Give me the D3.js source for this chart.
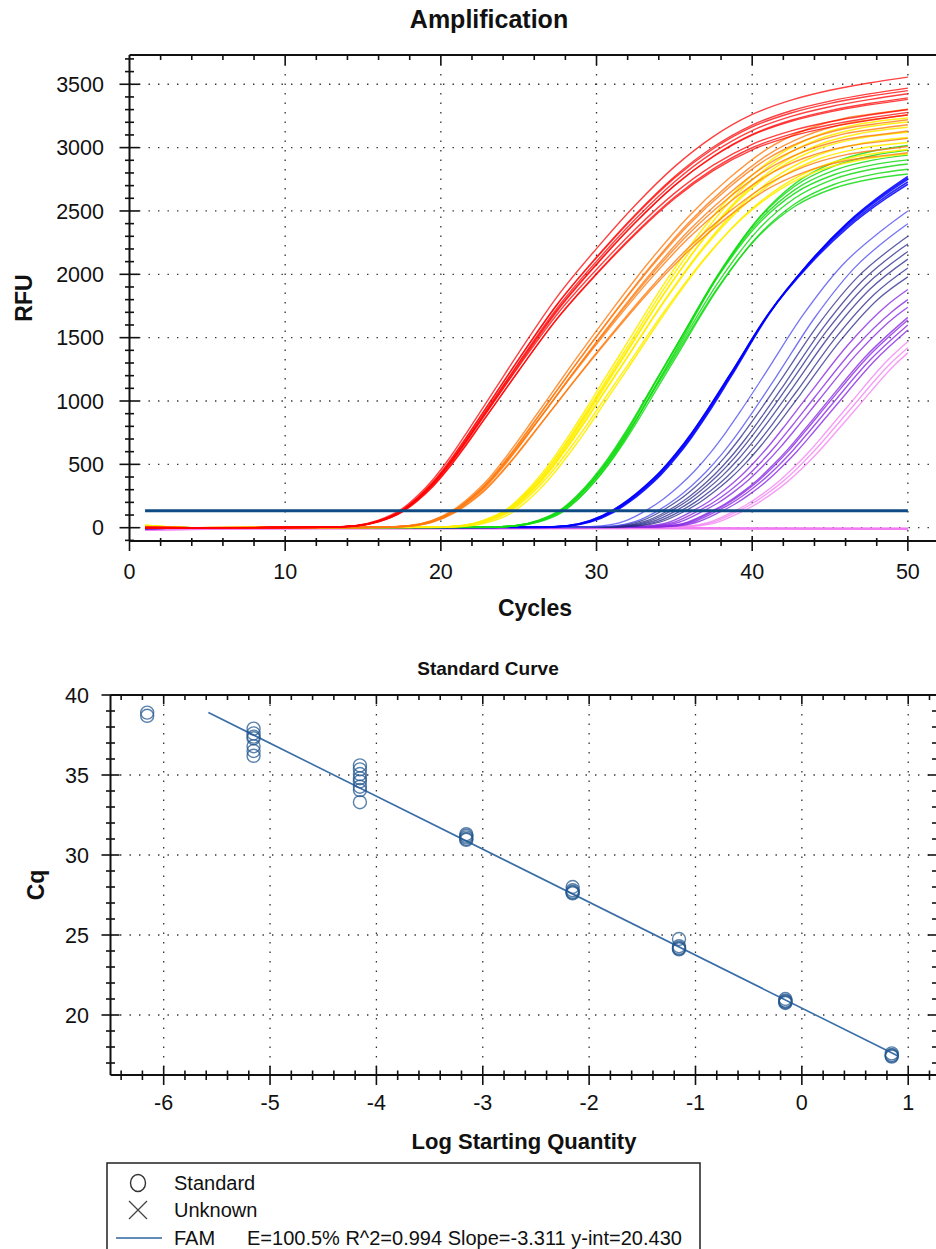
<!DOCTYPE html>
<html>
<head>
<meta charset="utf-8">
<script src="https://cdn.jsdelivr.net/npm/d3@7"></script>
<style>
  body { margin: 0; background: #fff; }
  svg { display: block; font-family: "Liberation Sans", Arial, sans-serif; }
</style>
</head>
<body>
<svg id="chart" width="936" height="1249"></svg>
<script>
// ---------------- Amplification data (RFU at knot cycles, one row per well) ----------------
const redCycles = [1, 4, 12.5, 14.5, 16, 17.5, 18.5, 19.5, 20.5, 21.5, 22.5, 23.5, 25, 27.5, 30, 32.5, 35, 37.5, 40, 42.5, 45, 47.5, 50];
const redRFU = [
  [2, 0, 3, 16, 59, 148, 252, 381, 540, 720, 909, 1097, 1380, 1828, 2203, 2547, 2848, 3087, 3262, 3375, 3453, 3510, 3556],
  [0, 0, 3, 14, 53, 137, 235, 358, 511, 685, 869, 1053, 1329, 1768, 2136, 2473, 2770, 3005, 3178, 3291, 3367, 3424, 3470],
  [-2, 0, 3, 15, 55, 140, 239, 362, 516, 690, 873, 1056, 1330, 1766, 2130, 2465, 2759, 2991, 3163, 3273, 3349, 3405, 3450],
  [0, 0, 3, 14, 50, 131, 227, 346, 496, 667, 849, 1030, 1303, 1738, 2102, 2436, 2729, 2962, 3135, 3247, 3323, 3379, 3425],
  [3, 0, 3, 13, 48, 127, 219, 337, 484, 653, 832, 1012, 1282, 1714, 2076, 2408, 2700, 2932, 3104, 3216, 3292, 3348, 3393],
  [0, 0, 3, 14, 52, 133, 229, 349, 498, 667, 847, 1026, 1295, 1723, 2082, 2410, 2699, 2928, 3098, 3207, 3282, 3337, 3381],
  [-3, 0, 3, 14, 52, 134, 229, 347, 494, 660, 835, 1010, 1272, 1689, 2038, 2358, 2639, 2862, 3026, 3132, 3204, 3257, 3301],
  [2, 0, 3, 12, 46, 122, 212, 325, 468, 630, 804, 978, 1239, 1656, 2006, 2326, 2608, 2832, 2999, 3107, 3180, 3234, 3278],
  [0, 0, 3, 13, 48, 125, 216, 330, 472, 635, 807, 980, 1239, 1653, 2000, 2317, 2597, 2819, 2983, 3089, 3162, 3215, 3258]
];

const orangeCycles = [1, 4, 15.9, 17.9, 19.4, 20.9, 21.9, 22.9, 23.9, 24.9, 25.9, 26.9, 28.4, 30.9, 33.4, 35.9, 38.4, 40.9, 43.4, 45.9, 48.4, 50];
const orangeRFU = [
  [4, 0, 3, 15, 55, 148, 246, 364, 513, 677, 850, 1023, 1285, 1704, 2101, 2455, 2746, 2984, 3139, 3231, 3277, 3303],
  [5, 0, 3, 13, 49, 135, 228, 340, 484, 644, 814, 985, 1244, 1658, 2052, 2405, 2696, 2935, 3092, 3186, 3233, 3259],
  [3, 0, 3, 14, 52, 141, 235, 349, 493, 652, 821, 990, 1245, 1653, 2041, 2388, 2673, 2906, 3058, 3149, 3195, 3220],
  [6, 0, 3, 12, 46, 128, 217, 326, 465, 620, 786, 953, 1206, 1610, 1995, 2341, 2626, 2861, 3015, 3108, 3155, 3180],
  [2, 0, 3, 13, 49, 133, 224, 333, 472, 626, 790, 954, 1203, 1600, 1978, 2316, 2594, 2823, 2972, 3062, 3106, 3131],
  [5, 0, 3, 14, 51, 138, 229, 339, 478, 630, 791, 952, 1196, 1585, 1954, 2284, 2555, 2776, 2920, 3006, 3049, 3073],
  [4, 0, 2, 11, 41, 118, 201, 302, 433, 579, 736, 894, 1133, 1517, 1882, 2210, 2481, 2704, 2852, 2941, 2985, 3009],
  [3, 0, 3, 12, 44, 123, 207, 309, 440, 585, 740, 895, 1130, 1506, 1864, 2184, 2449, 2666, 2808, 2894, 2937, 2960]
];

const yellowCycles = [1, 4, 19.35, 21.35, 22.85, 24.35, 25.35, 26.35, 27.35, 28.35, 29.35, 30.35, 31.85, 34.35, 36.85, 39.35, 41.85, 44.35, 46.85, 50];
const yellowRFU = [
  [18, 0, 4, 17, 63, 157, 270, 407, 569, 750, 941, 1141, 1435, 1926, 2361, 2710, 2954, 3104, 3184, 3234],
  [15, 0, 3, 16, 58, 148, 256, 388, 547, 725, 913, 1110, 1401, 1889, 2322, 2672, 2917, 3070, 3151, 3202],
  [20, 0, 3, 14, 53, 137, 241, 369, 523, 698, 882, 1077, 1365, 1847, 2278, 2627, 2873, 3027, 3109, 3160],
  [16, 0, 3, 16, 59, 148, 255, 386, 541, 715, 899, 1092, 1376, 1851, 2272, 2611, 2848, 2995, 3073, 3122],
  [19, 0, 3, 13, 50, 130, 229, 353, 502, 671, 851, 1041, 1321, 1791, 2212, 2554, 2796, 2948, 3029, 3079],
  [14, 0, 3, 14, 53, 136, 238, 362, 511, 680, 858, 1046, 1322, 1785, 2199, 2532, 2767, 2914, 2992, 3041],
  [17, 0, 2, 10, 37, 103, 190, 303, 441, 601, 772, 956, 1228, 1687, 2104, 2446, 2692, 2849, 2933, 2986],
  [12, 0, 3, 12, 46, 121, 214, 332, 473, 635, 806, 988, 1256, 1707, 2112, 2441, 2675, 2822, 2900, 2949]
];

const greenCycles = [1, 4, 22.75, 24.75, 26.25, 27.75, 28.75, 29.75, 30.75, 31.75, 32.75, 33.75, 35.25, 37.75, 40.25, 42.75, 45.25, 47.75, 50];
const greenRFU = [
  [12, 0, 2, 12, 44, 119, 216, 346, 501, 684, 890, 1109, 1435, 1976, 2419, 2716, 2883, 2973, 3017],
  [10, 0, 3, 14, 52, 134, 237, 370, 530, 715, 921, 1138, 1459, 1988, 2415, 2697, 2854, 2938, 2980],
  [14, 0, 3, 15, 55, 141, 246, 380, 539, 724, 929, 1144, 1460, 1980, 2396, 2669, 2820, 2901, 2941],
  [9, 0, 3, 16, 58, 147, 254, 389, 549, 734, 937, 1149, 1461, 1971, 2377, 2641, 2786, 2864, 2903],
  [11, 0, 3, 14, 52, 134, 234, 364, 518, 698, 897, 1107, 1416, 1924, 2333, 2602, 2752, 2831, 2871],
  [8, 0, 3, 13, 47, 124, 220, 345, 495, 669, 865, 1070, 1376, 1879, 2287, 2557, 2709, 2789, 2829],
  [13, 0, 3, 15, 54, 138, 239, 367, 520, 697, 892, 1096, 1396, 1888, 2281, 2537, 2679, 2754, 2792]
];

const blueCycles = [1, 4, 26.1, 28.1, 29.6, 31.1, 32.1, 33.1, 34.1, 35.1, 36.1, 37.1, 38.6, 41.1, 43.6, 46.1, 48.6, 50];
const blueRFU = [
  [-3, 0, 2, 12, 45, 122, 201, 299, 412, 551, 710, 890, 1184, 1688, 2083, 2405, 2654, 2773],
  [-2, 0, 3, 13, 49, 129, 209, 308, 423, 562, 722, 903, 1196, 1694, 2083, 2400, 2645, 2762],
  [-4, 0, 3, 14, 52, 135, 216, 317, 432, 573, 734, 915, 1206, 1698, 2080, 2392, 2633, 2749],
  [-1, 0, 3, 15, 56, 140, 223, 324, 441, 582, 743, 924, 1213, 1699, 2073, 2379, 2616, 2729],
  [-3, 0, 3, 16, 57, 143, 226, 327, 443, 585, 746, 926, 1213, 1694, 2064, 2365, 2599, 2711]
];

// later wells: [cycle, RFU] pairs
const lightBlueWells = [
  [[1, -5], [4, 0], [28.3, 3], [30.3, 14], [31.8, 52], [33.3, 145], [34.3, 227], [35.3, 329], [36.3, 448], [37.3, 589], [38.3, 751], [39.3, 929], [40.8, 1210], [43.3, 1685], [45.8, 2074], [48.3, 2344], [50, 2500]],
  [[1, -4], [4, 0], [29.06, 3], [31.06, 14], [32.56, 51], [34.06, 143], [35.06, 224], [36.06, 325], [37.06, 443], [38.06, 582], [39.06, 742], [40.06, 918], [41.56, 1195], [44.06, 1665], [46.56, 2049], [49.06, 2315], [50, 2400]]
];
const navyWells = [
  [[1, -6], [4, 0], [29.27, 3], [31.27, 13], [32.77, 49], [34.27, 138], [35.27, 216], [36.27, 314], [37.27, 427], [38.27, 561], [39.27, 716], [40.27, 886], [41.77, 1154], [44.27, 1607], [46.77, 1978], [49.27, 2235], [50, 2300]],
  [[1, -5], [4, 0], [29.6, 3], [31.6, 13], [33.1, 49], [34.6, 136], [35.6, 213], [36.6, 310], [37.6, 422], [38.6, 554], [39.6, 706], [40.6, 874], [42.1, 1138], [44.6, 1585], [47.1, 1951], [49.6, 2205], [50, 2240]],
  [[1, -7], [4, 0], [29.8, 3], [31.8, 13], [33.3, 48], [34.8, 134], [35.8, 209], [36.8, 304], [37.8, 414], [38.8, 543], [39.8, 693], [40.8, 857], [42.3, 1117], [44.8, 1555], [47.3, 1914], [50, 2180]],
  [[1, -4], [4, 0], [30.06, 3], [32.06, 13], [33.56, 47], [35.06, 131], [36.06, 206], [37.06, 299], [38.06, 407], [39.06, 534], [40.06, 681], [41.06, 843], [42.56, 1098], [45.06, 1529], [47.56, 1882], [50, 2120]],
  [[1, -6], [4, 0], [30.35, 3], [32.35, 12], [33.85, 46], [35.35, 129], [36.35, 202], [37.35, 293], [38.35, 398], [39.35, 523], [40.35, 667], [41.35, 826], [42.85, 1075], [45.35, 1498], [47.85, 1843], [50, 2050]],
  [[1, -5], [4, 0], [30.6, 3], [32.6, 12], [34.1, 45], [35.6, 126], [36.6, 197], [37.6, 287], [38.6, 390], [39.6, 512], [40.6, 653], [41.6, 808], [43.1, 1053], [45.6, 1466], [48.1, 1805], [50, 1980]]
];
const violetWells = [
  [[1, -8], [4, 0], [31.2, 3], [33.2, 12], [34.7, 45], [36.2, 134], [37.2, 205], [38.2, 295], [39.2, 400], [40.2, 525], [41.2, 665], [42.2, 820], [43.7, 1060], [46.2, 1450], [48.7, 1760], [50, 1880]],
  [[1, -9], [4, 0], [31.5, 3], [33.5, 12], [35, 44], [36.5, 130], [37.5, 199], [38.5, 286], [39.5, 388], [40.5, 509], [41.5, 645], [42.5, 795], [44, 1028], [46.5, 1407], [49, 1707], [50, 1800]],
  [[1, -7], [4, 0], [31.8, 3], [33.8, 11], [35.3, 43], [36.8, 128], [37.8, 195], [38.8, 281], [39.8, 381], [40.8, 500], [41.8, 634], [42.8, 781], [44.3, 1010], [46.8, 1382], [49.3, 1677], [50, 1740]],
  [[1, -10], [4, 0], [32.3, 3], [34.3, 11], [35.8, 42], [37.3, 125], [38.3, 191], [39.3, 275], [40.3, 373], [41.3, 490], [42.3, 620], [43.3, 765], [44.8, 989], [47.3, 1353], [50, 1660]],
  [[1, -8], [4, 0], [32.4, 3], [34.4, 11], [35.9, 42], [37.4, 124], [38.4, 190], [39.4, 273], [40.4, 371], [41.4, 487], [42.4, 616], [43.4, 760], [44.9, 983], [47.4, 1344], [50, 1640]],
  [[1, -9], [4, 0], [32.6, 3], [34.6, 11], [36.1, 41], [37.6, 123], [38.6, 188], [39.6, 270], [40.6, 366], [41.6, 480], [42.6, 608], [43.6, 750], [45.1, 970], [47.6, 1327], [50, 1600]],
  [[1, -7], [4, 0], [32.9, 3], [34.9, 11], [36.4, 41], [37.9, 122], [38.9, 187], [39.9, 269], [40.9, 365], [41.9, 479], [42.9, 606], [43.9, 748], [45.4, 967], [47.9, 1322], [50, 1560]]
];
const pinkWells = [
  [[1, -14], [4, 0], [33.7, 3], [35.7, 11], [37.2, 41], [38.7, 122], [39.7, 187], [40.7, 269], [41.7, 365], [42.7, 479], [43.7, 606], [44.7, 748], [46.2, 967], [48.7, 1322], [50, 1470]],
  [[1, -15], [4, 0], [33.9, 3], [35.9, 11], [37.4, 40], [38.9, 120], [39.9, 183], [40.9, 264], [41.9, 358], [42.9, 470], [43.9, 595], [44.9, 734], [46.4, 949], [48.9, 1298], [50, 1420]],
  [[1, -13], [4, 0], [34.2, 3], [36.2, 11], [37.7, 40], [39.2, 119], [40.2, 182], [41.2, 263], [42.2, 356], [43.2, 467], [44.2, 592], [45.2, 730], [46.7, 943], [49.2, 1291], [50, 1380]]
];
// no-template wells (flat)
const flatWells = [
  [[1, -16], [5, -8], [10, -5], [20, -3], [30, -2], [40, -6], [50, -8]],
  [[1, -12], [5, -6], [15, -4], [25, -5], [35, -2], [45, -7], [50, -6]],
  [[1, -18], [5, -10], [12, -6], [22, -6], [32, -4], [42, -9], [50, -10]]
];

const thresholdRFU = 134;
const ampXTicks = [0, 10, 20, 30, 40, 50];
const ampYTicks = [0, 500, 1000, 1500, 2000, 2500, 3000, 3500];

// ---------------- Standard curve data ----------------
const logQuantity = [0.845, -0.155, -1.155, -2.155, -3.155, -4.155, -5.155, -6.155];
const cqValues = [
  [17.6, 17.5, 17.45, 17.4],
  [21.0, 20.9, 20.85, 20.8, 20.75],
  [24.75, 24.3, 24.2, 24.15, 24.1],
  [28.0, 27.8, 27.7, 27.65, 27.6],
  [31.3, 31.2, 31.1, 31.0, 30.95],
  [35.6, 35.35, 35.06, 34.8, 34.6, 34.27, 34.06, 33.3],
  [37.9, 37.6, 37.4, 37.3, 36.8, 36.5, 36.2],
  [38.9, 38.7]
];
const fitSlope = -3.311;
const fitIntercept = 20.430;
const fitEfficiency = 100.5;
const fitR2 = 0.994;
const fitRange = [-5.58, 0.9];
const stdXTicks = [-6, -5, -4, -3, -2, -1, 0, 1];
const stdYTicks = [20, 25, 30, 35, 40];

// ---------------- drawing ----------------
const svg = d3.select("#chart");
const AXIS = "#111";
const GRID = "#333";

function dotted(g, x1, y1, x2, y2) {
  g.append("line").attr("x1", x1).attr("y1", y1).attr("x2", x2).attr("y2", y2)
    .attr("stroke", GRID).attr("stroke-width", 1.3).attr("stroke-dasharray", "1.4,8.1");
}
function tick(g, x1, y1, x2, y2, w) {
  g.append("line").attr("x1", x1).attr("y1", y1).attr("x2", x2).attr("y2", y2)
    .attr("stroke", AXIS).attr("stroke-width", w || 1.6);
}

// ===== Amplification plot =====
const ampX = d3.scaleLinear().domain([0, 52]).range([129.5, 939]);
const ampY = d3.scaleLinear().domain([-105, 3731]).range([541, 55]);
const amp = svg.append("g");

amp.append("text").attr("x", 489).attr("y", 28).attr("text-anchor", "middle")
  .attr("font-size", 25).attr("font-weight", "bold").attr("fill", "#111").text("Amplification");

svg.append("clipPath").attr("id", "ampClip").append("rect")
  .attr("x", ampX(0)).attr("y", ampY(3731)).attr("width", ampX(52) - ampX(0)).attr("height", ampY(-105) - ampY(3731));

// grid
const ampGrid = amp.append("g");
ampYTicks.forEach(v => dotted(ampGrid, ampX(0), ampY(v), ampX(52), ampY(v)));
ampXTicks.filter(v => v > 0).forEach(v => dotted(ampGrid, ampX(v), ampY(3731), ampX(v), ampY(-105)));

// curves
const ampLine = d3.line().x(d => ampX(d[0])).y(d => ampY(d[1])).curve(d3.curveMonotoneX);
const curveLayer = amp.append("g").attr("clip-path", "url(#ampClip)").attr("fill", "none");

function drawWells(wells, color, width, opacity) {
  wells.forEach(w => {
    curveLayer.append("path").attr("d", ampLine(w))
      .attr("stroke", color).attr("stroke-width", width).attr("stroke-opacity", opacity);
  });
}
const pairUp = (cycles, rows) => rows.map(r => d3.zip(cycles, r));

drawWells(flatWells, "#f27cf2", 2, 0.9);
drawWells(pinkWells, "#f58cf5", 1.4, 0.85);
drawWells(violetWells, "#8a2be2", 1.4, 0.8);
drawWells(navyWells, "#26268a", 1.3, 0.75);
drawWells(lightBlueWells, "#4545f2", 1.3, 0.75);
drawWells(pairUp(blueCycles, blueRFU), "#0000ff", 1.5, 0.85);
drawWells(pairUp(greenCycles, greenRFU), "#14dc14", 1.4, 0.85);
drawWells(pairUp(yellowCycles, yellowRFU), "#ffee00", 1.5, 0.9);
drawWells(pairUp(orangeCycles, orangeRFU), "#ff7b0f", 1.4, 0.8);
drawWells(pairUp(redCycles, redRFU), "#ff0000", 1.4, 0.75);

// threshold
amp.append("line").attr("x1", ampX(1)).attr("x2", ampX(50))
  .attr("y1", ampY(thresholdRFU)).attr("y2", ampY(thresholdRFU))
  .attr("stroke", "#0e4a84").attr("stroke-width", 3);

// axes frame and ticks
const ampAxes = amp.append("g");
tick(ampAxes, ampX(0), ampY(3731), ampX(0), ampY(-105), 2);
tick(ampAxes, ampX(0), ampY(-105), ampX(52), ampY(-105), 2);
tick(ampAxes, ampX(0), ampY(3731), ampX(52), ampY(3731), 2);
d3.range(-100, 3701, 100).forEach(v => {
  const major = v % 500 === 0;
  const h = major ? 10 : 4.5;
  tick(ampAxes, ampX(0) - h, ampY(v), ampX(0) + h, ampY(v));
});
d3.range(2, 51, 2).forEach(v => {
  const major = v % 10 === 0;
  tick(ampAxes, ampX(v), ampY(-105) - (major ? 5 : 3), ampX(v), ampY(-105) + (major ? 10 : 5));
  tick(ampAxes, ampX(v), ampY(3731), ampX(v), ampY(3731) + (major ? 10 : 5));
});
tick(ampAxes, ampX(0), ampY(-105), ampX(0), ampY(-105) + 10);

ampYTicks.forEach(v => ampAxes.append("text").attr("x", 104).attr("y", ampY(v) + 7.8)
  .attr("text-anchor", "end").attr("font-size", 21.5).attr("fill", "#111").text(v));
ampXTicks.forEach(v => ampAxes.append("text").attr("x", ampX(v)).attr("y", 579)
  .attr("text-anchor", "middle").attr("font-size", 21.5).attr("fill", "#111").text(v));

ampAxes.append("text").attr("transform", "translate(32,298) rotate(-90)").attr("text-anchor", "middle")
  .attr("font-size", 23).attr("font-weight", "bold").attr("fill", "#111").text("RFU");
ampAxes.append("text").attr("x", 535).attr("y", 616).attr("text-anchor", "middle")
  .attr("font-size", 23).attr("font-weight", "bold").attr("fill", "#111").text("Cycles");

// ===== Standard curve plot =====
const stdX = d3.scaleLinear().domain([-6.5, 1.28]).range([110.5, 938]);
const stdY = d3.scaleLinear().domain([16.25, 40]).range([1075, 695]);
const std = svg.append("g");

std.append("text").attr("x", 488).attr("y", 675).attr("text-anchor", "middle")
  .attr("font-size", 19).attr("font-weight", "bold").attr("fill", "#111").text("Standard Curve");

const stdGrid = std.append("g");
stdYTicks.filter(v => v < 40).forEach(v => dotted(stdGrid, stdX(-6.5), stdY(v), stdX(1.28), stdY(v)));
stdXTicks.forEach(v => dotted(stdGrid, stdX(v), stdY(40), stdX(v), stdY(16.25)));

// fit line
std.append("line")
  .attr("x1", stdX(fitRange[0])).attr("y1", stdY(fitSlope * fitRange[0] + fitIntercept))
  .attr("x2", stdX(fitRange[1])).attr("y2", stdY(fitSlope * fitRange[1] + fitIntercept))
  .attr("stroke", "#3a6ea8").attr("stroke-width", 1.6);

// standards
const pts = [];
logQuantity.forEach((q, i) => cqValues[i].forEach(c => pts.push([q, c])));
std.append("g").selectAll("circle").data(pts).join("circle")
  .attr("cx", d => stdX(d[0])).attr("cy", d => stdY(d[1])).attr("r", 6.5)
  .attr("fill", "none").attr("stroke", "#23578f").attr("stroke-width", 1.4).attr("stroke-opacity", 0.75);

// frame and ticks
const stdAxes = std.append("g");
tick(stdAxes, stdX(-6.5), stdY(40), stdX(-6.5), stdY(16.25), 2);
tick(stdAxes, stdX(-6.5), stdY(16.25), stdX(1.28), stdY(16.25), 2);
tick(stdAxes, stdX(-6.5), stdY(40), stdX(1.28), stdY(40), 2);
tick(stdAxes, stdX(1.28), stdY(40), stdX(1.28), stdY(16.25), 2);
d3.range(17, 41).forEach(v => {
  const major = v % 5 === 0;
  const h = major ? 9 : 4.5;
  tick(stdAxes, stdX(-6.5) - h, stdY(v), stdX(-6.5) + h, stdY(v));
  tick(stdAxes, stdX(1.28), stdY(v), stdX(1.28) - (major ? 10 : 6), stdY(v));
});
d3.range(-32, 7).map(i => i / 5).forEach(v => {
  const major = Math.abs(v - Math.round(v)) < 1e-6;
  tick(stdAxes, stdX(v), stdY(16.25) - (major ? 9 : 4.5), stdX(v), stdY(16.25) + (major ? 10 : 5));
  tick(stdAxes, stdX(v), stdY(40), stdX(v), stdY(40) + (major ? 9 : 5));
});

stdYTicks.forEach(v => stdAxes.append("text").attr("x", 89).attr("y", stdY(v) + 7.8)
  .attr("text-anchor", "end").attr("font-size", 21.5).attr("fill", "#111").text(v));
stdXTicks.forEach(v => stdAxes.append("text").attr("x", stdX(v)).attr("y", 1110)
  .attr("text-anchor", "middle").attr("font-size", 21.5).attr("fill", "#111").text(String(v)));

stdAxes.append("text").attr("transform", "translate(44,885) rotate(-90)").attr("text-anchor", "middle")
  .attr("font-size", 23).attr("font-weight", "bold").attr("fill", "#111").text("Cq");
stdAxes.append("text").attr("x", 524).attr("y", 1149).attr("text-anchor", "middle")
  .attr("font-size", 22).attr("font-weight", "bold").attr("fill", "#111").text("Log Starting Quantity");

// legend
const lg = svg.append("g");
lg.append("rect").attr("x", 107).attr("y", 1163).attr("width", 593).attr("height", 110)
  .attr("fill", "#fff").attr("stroke", "#222").attr("stroke-width", 1.5);
lg.append("ellipse").attr("cx", 138).attr("cy", 1183).attr("rx", 7.5).attr("ry", 8.5)
  .attr("fill", "none").attr("stroke", "#333").attr("stroke-width", 1.4);
lg.append("text").attr("x", 174).attr("y", 1190).attr("font-size", 20).attr("fill", "#111").text("Standard");
lg.append("path").attr("d", "M129,1201L147,1219M147,1201L129,1219")
  .attr("stroke", "#444").attr("stroke-width", 1.3);
lg.append("text").attr("x", 174).attr("y", 1217).attr("font-size", 20).attr("fill", "#111").text("Unknown");
lg.append("line").attr("x1", 116).attr("x2", 162).attr("y1", 1238).attr("y2", 1238)
  .attr("stroke", "#2f64a0").attr("stroke-width", 1.6);
lg.append("text").attr("x", 174).attr("y", 1245).attr("font-size", 20).attr("fill", "#111").text("FAM");
lg.append("text").attr("x", 247).attr("y", 1245).attr("font-size", 20).attr("fill", "#111")
  .text(`E=${fitEfficiency.toFixed(1)}% R^2=${fitR2.toFixed(3)} Slope=${fitSlope.toFixed(3)} y-int=${fitIntercept.toFixed(3)}`);
</script>
</body>
</html>
